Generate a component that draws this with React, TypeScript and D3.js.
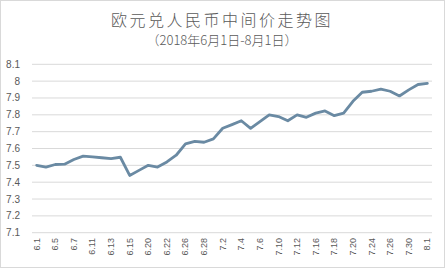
import React from "react";
import * as d3 from "d3";

const title = "欧元兑人民币中间价走势图";
const subtitle = "（2018年6月1日-8月1日）";

const dates = [
  "6.1", "6.4", "6.5", "6.6", "6.7", "6.8", "6.11", "6.12", "6.13", "6.14", "6.15",
  "6.19", "6.20", "6.21", "6.22", "6.25", "6.26", "6.27", "6.28", "6.29",
  "7.2", "7.3", "7.4", "7.5", "7.6", "7.9", "7.10", "7.11", "7.12", "7.13",
  "7.16", "7.17", "7.18", "7.19", "7.20", "7.23", "7.24", "7.25", "7.26", "7.27",
  "7.30", "7.31", "8.1",
];

const rates = [
  7.50, 7.49, 7.505, 7.507, 7.535, 7.555, 7.55, 7.545, 7.54, 7.548, 7.44,
  7.47, 7.50, 7.49, 7.52, 7.56, 7.627, 7.642, 7.637, 7.657,
  7.72, 7.742, 7.765, 7.72, 7.76, 7.80, 7.79, 7.765, 7.80, 7.785,
  7.81, 7.823, 7.795, 7.81, 7.88, 7.934, 7.94, 7.952, 7.94, 7.912,
  7.948, 7.98, 7.987,
];

const yTicks = [7.1, 7.2, 7.3, 7.4, 7.5, 7.6, 7.7, 7.8, 7.9, 8, 8.1];

const W = 445;
const H = 268;

export default function App() {
  const x = d3
    .scaleBand<string>()
    .domain(dates)
    .range([32, 432]);
  const y = d3.scaleLinear().domain([7.1, 8.1]).range([232.7, 64.3]);
  const cx = (d: string) => (x(d) as number) + x.bandwidth() / 2;

  const line = d3
    .line<number>()
    .x((_, i) => cx(dates[i]))
    .y((v) => y(v));

  const font = "'Liberation Sans', Arial, sans-serif";
  const cjk = "'Noto Sans CJK SC', 'Noto Sans', sans-serif";

  return (
    <svg
      width={W}
      height={H}
      style={{ position: "absolute", left: 0, top: 0, background: "#fff" }}
    >
      <rect x={0.5} y={0.5} width={W - 1} height={H - 1} fill="#fff" stroke="#d9d9d9" />
      <text
        x={222}
        y={26}
        textAnchor="middle"
        fontFamily={cjk}
        fontSize={16}
        letterSpacing={2.5}
        fill="#595959"
        fontWeight={300}
      >
        {title}
      </text>
      <text
        x={222}
        y={45}
        textAnchor="middle"
        fontFamily={cjk}
        fontSize={13}
        fill="#595959"
        fontWeight={300}
      >
        {subtitle}
      </text>
      {yTicks.map((t) => (
        <g key={t}>
          <line x1={32} x2={432} y1={y(t)} y2={y(t)} stroke="#d9d9d9" strokeWidth={1} />
          <text
            x={20}
            y={y(t) + 3.5}
            textAnchor="end"
            fontFamily={font}
            fontSize={10}
            fill="#595959"
          >
            {t}
          </text>
        </g>
      ))}
      {dates.map((d, i) =>
        i % 2 === 0 ? (
          <text
            key={d}
            transform={`translate(${cx(d) + 3},${238}) rotate(-90)`}
            textAnchor="end"
            fontFamily={font}
            fontSize={9}
            fill="#595959"
          >
            {d}
          </text>
        ) : null
      )}
      <path
        d={line(rates) || ""}
        fill="none"
        stroke="#6a8aa3"
        strokeWidth={2.8}
        strokeLinejoin="round"
        strokeLinecap="round"
      />
    </svg>
  );
}
